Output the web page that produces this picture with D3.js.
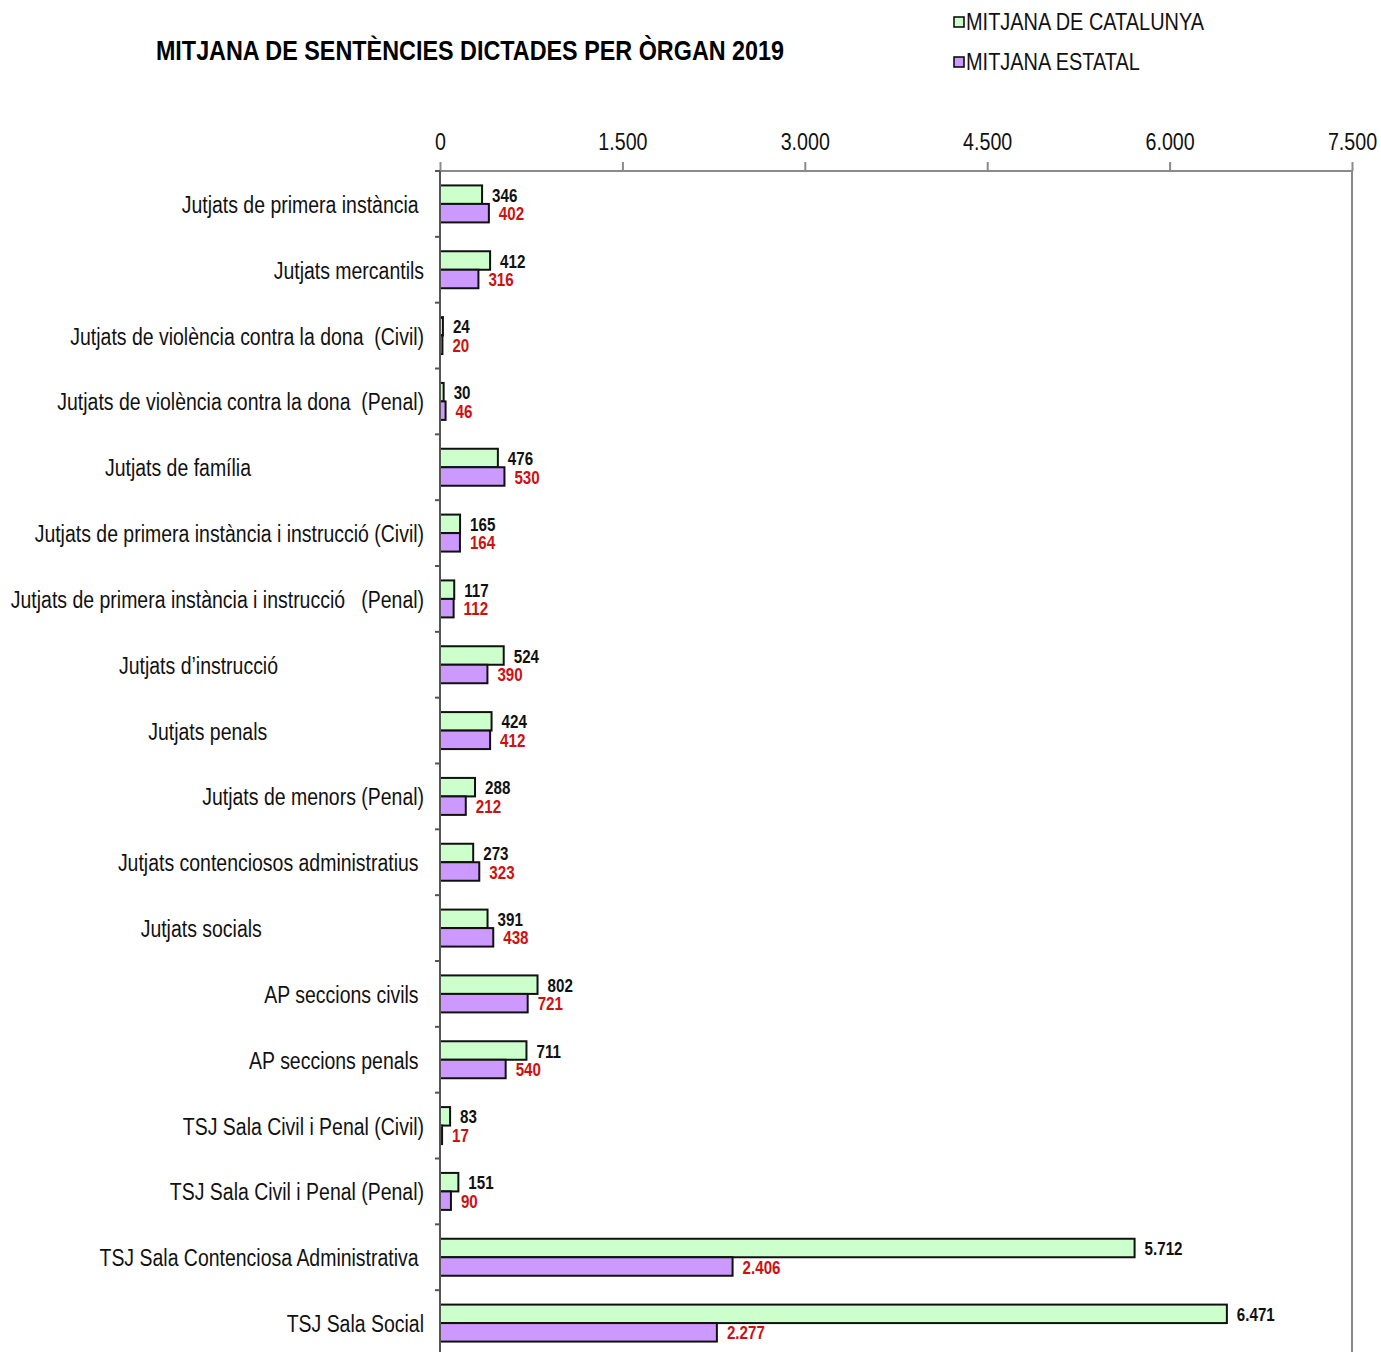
<!DOCTYPE html>
<html>
<head>
<meta charset="utf-8">
<script src="https://cdn.jsdelivr.net/npm/d3@7/dist/d3.min.js"></script>
<style>
  html, body { margin: 0; padding: 0; background: #fff; }
  svg { display: block; }
  text { font-family: "Liberation Sans", Arial, sans-serif; white-space: pre; }
</style>
</head>
<body>
<script>
const title = "MITJANA DE SENTÈNCIES DICTADES PER ÒRGAN 2019";
const seriesNames = ["MITJANA DE CATALUNYA", "MITJANA ESTATAL"];
const categories = [
  "Jutjats de primera instància ",
  "Jutjats mercantils",
  "Jutjats de violència contra la dona  (Civil)",
  "Jutjats de violència contra la dona  (Penal)",
  "Jutjats de família" + " ".repeat(32),
  "Jutjats de primera instància i instrucció (Civil)",
  "Jutjats de primera instància i instrucció   (Penal)",
  "Jutjats d’instrucció" + " ".repeat(27),
  "Jutjats penals" + " ".repeat(29),
  "Jutjats de menors (Penal)",
  "Jutjats contenciosos administratius ",
  "Jutjats socials" + " ".repeat(30),
  "AP seccions civils ",
  "AP seccions penals ",
  "TSJ Sala Civil i Penal (Civil)",
  "TSJ Sala Civil i Penal (Penal)",
  "TSJ Sala Contenciosa Administrativa ",
  "TSJ Sala Social"
];
const catalunya = [346, 412, 24, 30, 476, 165, 117, 524, 424, 288, 273, 391, 802, 711, 83, 151, 5712, 6471];
const estatal   = [402, 316, 20, 46, 530, 164, 112, 390, 412, 212, 323, 438, 721, 540, 17, 90, 2406, 2277];
const tickValues = [0, 1500, 3000, 4500, 6000, 7500];

const W = 1381, H = 1352;
const mLeft = 440, mRight = 1352, mTop = 171, mBottom = 1356;
const colors = ["#ccffcc", "#cc99ff"];
const labelColors = ["#111111", "#cc1111"];
const SX = 0.82; // narrow-font emulation

const locale = d3.formatLocale({decimal: ",", thousands: ".", grouping: [3], currency: ["", " €"]});
const fmt = locale.format(",d");

const svg = d3.select("body").append("svg").attr("width", W).attr("height", H);

const x = d3.scaleLinear().domain([0, 7500]).range([mLeft, mRight]);
const y = d3.scaleBand().domain(d3.range(categories.length)).range([mTop, mBottom]).paddingInner(0).paddingOuter(0);
const ys = d3.scaleBand().domain([0, 1]).range([0, y.bandwidth()]).paddingInner(0).paddingOuter(0.78);

// Title
svg.append("text").attr("x", 470).attr("y", 60).attr("text-anchor", "middle")
  .attr("font-size", 28.5).attr("font-weight", "bold").attr("fill", "#000").text(title);

// Legend
const leg = svg.append("g");
seriesNames.forEach((n, i) => {
  const ly = 22 + i * 40;
  leg.append("rect").attr("x", 954).attr("y", ly - 5).attr("width", 10).attr("height", 10)
    .attr("fill", colors[i]).attr("stroke", "#000").attr("stroke-width", 1.5);
  leg.append("text").attr("x", 966).attr("y", ly).attr("dominant-baseline", "central")
    .attr("font-size", 24.3).attr("fill", "#111").text(n);
});

// Top axis
const axis = d3.axisTop(x).tickValues(tickValues).tickSize(9).tickPadding(12).tickFormat(d => fmt(d));
const ag = svg.append("g").attr("transform", `translate(0,${mTop})`).call(axis);
ag.select(".domain").attr("stroke", "#8a8a8a").attr("stroke-width", 2).attr("d", `M${mLeft},0H${mRight}`);
ag.selectAll(".tick line").attr("stroke", "#8a8a8a").attr("stroke-width", 2);
ag.selectAll(".tick text").attr("font-size", 24).attr("fill", "#111")
  .attr("font-family", "\"Liberation Sans\", Arial, sans-serif");

// Right border
svg.append("line").attr("x1", mRight).attr("x2", mRight).attr("y1", mTop).attr("y2", mBottom)
  .attr("stroke", "#8a8a8a").attr("stroke-width", 2);

// Bars
const data = categories.map((c, i) => ({i, vals: [catalunya[i], estatal[i]]}));
const groups = svg.append("g").selectAll("g").data(data).join("g")
  .attr("transform", d => `translate(0,${y(d.i)})`);
groups.selectAll("rect").data(d => d.vals.map((v, k) => ({v, k}))).join("rect")
  .attr("x", x(0)).attr("y", d => ys(d.k)).attr("width", d => x(d.v) - x(0)).attr("height", ys.bandwidth())
  .attr("fill", d => colors[d.k]).attr("stroke", "#111").attr("stroke-width", 2);
groups.selectAll("text.val").data(d => d.vals.map((v, k) => ({v, k}))).join("text")
  .attr("class", "val")
  .attr("x", d => x(d.v) + 10).attr("y", d => ys(d.k) + ys.bandwidth() / 2 + 1)
  .attr("dominant-baseline", "central").attr("font-size", 18.5).attr("font-weight", "bold")
  .attr("fill", d => labelColors[d.k]).text(d => fmt(d.v));

// Left axis
const la = d3.axisLeft(y).tickSize(0).tickPadding(16).tickFormat(i => categories[i]);
const lg = svg.append("g").attr("transform", `translate(${mLeft},0)`).call(la);
lg.select(".domain").remove();
lg.selectAll(".tick text").attr("font-size", 23.75).attr("fill", "#111")
  .attr("font-family", "\"Liberation Sans\", Arial, sans-serif")
  .attr("dy", "0.38em")
  .style("white-space", "pre");
svg.append("line").attr("x1", mLeft).attr("x2", mLeft).attr("y1", mTop).attr("y2", mBottom)
  .attr("stroke", "#555").attr("stroke-width", 2);
svg.append("g").selectAll("line").data(d3.range(categories.length + 1)).join("line")
  .attr("x1", mLeft - 5).attr("x2", mLeft)
  .attr("y1", i => mTop + i * y.step()).attr("y2", i => mTop + i * y.step())
  .attr("stroke", "#555").attr("stroke-width", 2);

// Emulate a narrow typeface by horizontal scaling around each text's anchor
svg.selectAll("text").each(function() {
  const t = d3.select(this);
  const x0 = +(t.attr("x") || 0);
  t.attr("x", x0 / SX).attr("transform", `scale(${SX},1)`);
});
</script>
</body>
</html>
